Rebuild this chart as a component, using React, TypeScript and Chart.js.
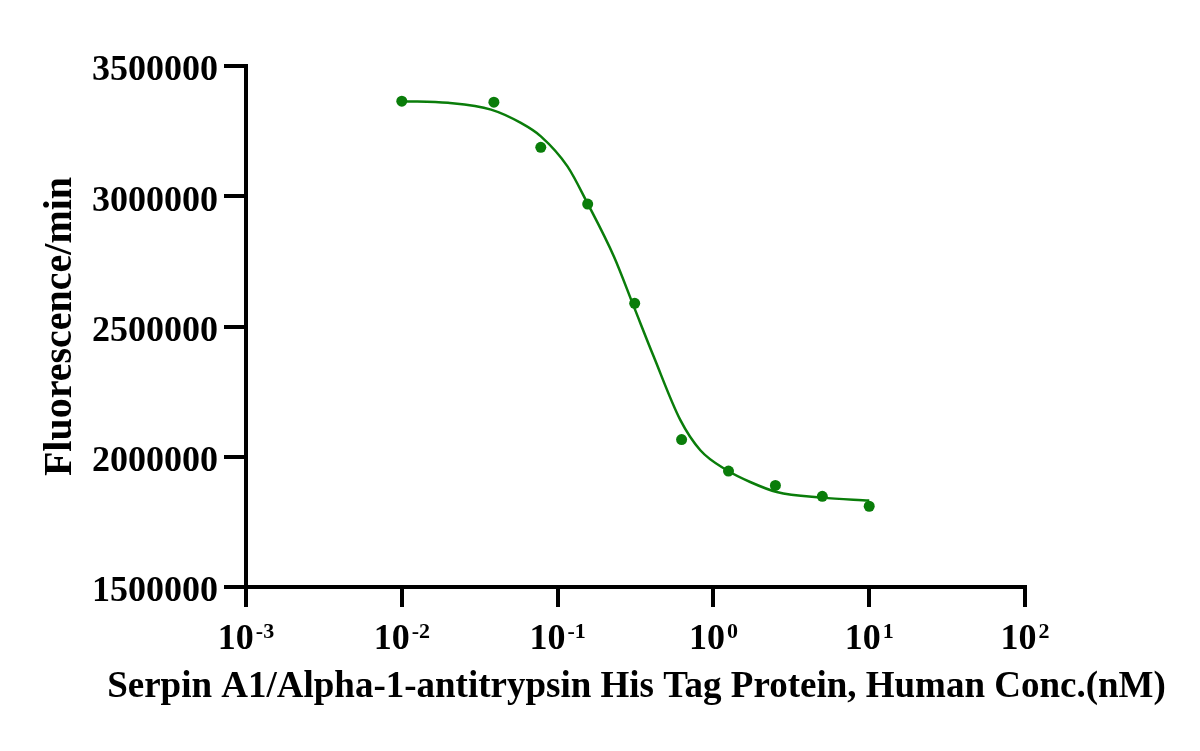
import React, { useEffect, useRef } from 'react';
import { Chart, registerables } from 'chart.js';

Chart.register(...registerables);

// measured points (nM, fluorescence/min)
const CONC = [0.01, 0.039, 0.078, 0.156, 0.3125, 0.625, 1.25, 2.5, 5, 10];
const FLUOR = [3365000, 3361000, 3188000, 2970000, 2589000, 2066000, 1945000, 1890000, 1848000, 1810000];

// fitted curve
const FIT_X = [0.01, 0.0198, 0.0374, 0.0581, 0.0781, 0.1157, 0.1553, 0.2298, 0.3086, 0.4144, 0.6141, 0.8244, 1.222, 1.722, 2.552, 4.953, 10];
const FIT_Y = [3365000, 3358500, 3332700, 3281500, 3230000, 3114600, 2973800, 2768500, 2576200, 2383800, 2140400, 2025000, 1948100, 1903100, 1864600, 1843100, 1832000];

const X_TICKS = [0.001, 0.01, 0.1, 1, 10, 100];
const X_TICK_EXP = ['-3', '-2', '-1', '0', '1', '2'];
const Y_TICKS = [1500000, 2000000, 2500000, 3000000, 3500000];
const X_TITLE = 'Serpin A1/Alpha-1-antitrypsin His Tag Protein, Human Conc.(nM)';

const GREEN = '#0a7d0a';
const FONT = "'Liberation Serif', 'Times New Roman', serif";

// draws 10^n labels with a raised exponent under each x tick, plus the x title
// (the built-in title gets squeezed to the axis width)
const xAxisText = {
  id: 'xAxisText',
  afterDraw(chart: any) {
    const { ctx, chartArea } = chart;
    const xs = chart.scales.x;
    const baseY = xs.top + 62;
    ctx.save();
    ctx.fillStyle = '#000';
    ctx.textBaseline = 'alphabetic';
    ctx.textAlign = 'left';
    X_TICKS.forEach((v, i) => {
      const px = xs.getPixelForValue(v);
      ctx.font = `bold 36px ${FONT}`;
      const bw = ctx.measureText('10').width;
      ctx.font = `bold 22px ${FONT}`;
      const ew = ctx.measureText(X_TICK_EXP[i]).width;
      const left = px - (bw + ew + 2) / 2;
      ctx.font = `bold 36px ${FONT}`;
      ctx.fillText('10', left, baseY);
      ctx.font = `bold 22px ${FONT}`;
      ctx.fillText(X_TICK_EXP[i], left + bw + 2, baseY - 11);
    });
    ctx.textAlign = 'center';
    ctx.font = `bold 37px ${FONT}`;
    ctx.fillText(X_TITLE, (chartArea.left + chartArea.right) / 2 + 1, xs.top + 110);
    ctx.restore();
  },
};

const App: React.FC = () => {
  const canvasRef = useRef<HTMLCanvasElement>(null);

  useEffect(() => {
    document.body.style.margin = '0';
    if (!canvasRef.current) return;

    const chart = new Chart(canvasRef.current, {
      type: 'scatter',
      data: {
        datasets: [
          {
            label: 'fit',
            data: FIT_X.map((x, i) => ({ x, y: FIT_Y[i] })),
            showLine: true,
            borderColor: GREEN,
            borderWidth: 2.5,
            pointRadius: 0,
            cubicInterpolationMode: 'monotone',
          },
          {
            label: 'data',
            data: CONC.map((x, i) => ({ x, y: FLUOR[i] })),
            backgroundColor: GREEN,
            borderColor: GREEN,
            pointRadius: 5.5,
            borderWidth: 0,
          },
        ],
      },
      plugins: [xAxisText],
      options: {
        responsive: false,
        animation: false,
        layout: { padding: { top: 66, right: 175, left: 0, bottom: 0 } },
        plugins: {
          legend: { display: false },
          tooltip: { enabled: false },
        },
        scales: {
          x: {
            type: 'logarithmic',
            min: 0.001,
            max: 100,
            afterBuildTicks: (scale: any) => {
              scale.ticks = X_TICKS.map((value) => ({ value }));
            },
            afterFit: (scale: any) => {
              scale.height = 164;
            },
            ticks: { display: false },
            grid: {
              drawOnChartArea: false,
              drawTicks: true,
              tickLength: 20,
              color: '#000',
              lineWidth: 4,
            },
            border: { color: '#000', width: 4 },
          },
          y: {
            min: 1500000,
            max: 3500000,
            afterBuildTicks: (scale: any) => {
              scale.ticks = Y_TICKS.map((value) => ({ value }));
            },
            afterFit: (scale: any) => {
              scale.width = 246;
            },
            ticks: {
              color: '#000',
              padding: 6,
              labelOffset: 5,
              font: { family: FONT, weight: 'bold', size: 36 },
              callback: (v: any) => String(v),
            },
            grid: {
              drawOnChartArea: false,
              drawTicks: true,
              tickLength: 22,
              color: '#000',
              lineWidth: 4,
            },
            border: { color: '#000', width: 4 },
            title: {
              display: true,
              text: 'Fluorescence/min',
              color: '#000',
              font: { family: FONT, weight: 'bold', size: 40, lineHeight: 1 },
              padding: { top: 41 },
            },
          },
        },
      },
    });

    return () => {
      chart.destroy();
    };
  }, []);

  return (
    <div style={{ width: '1200px', height: '751px', background: '#fff' }}>
      <canvas ref={canvasRef} width={1200} height={751} />
    </div>
  );
};

export default App;
